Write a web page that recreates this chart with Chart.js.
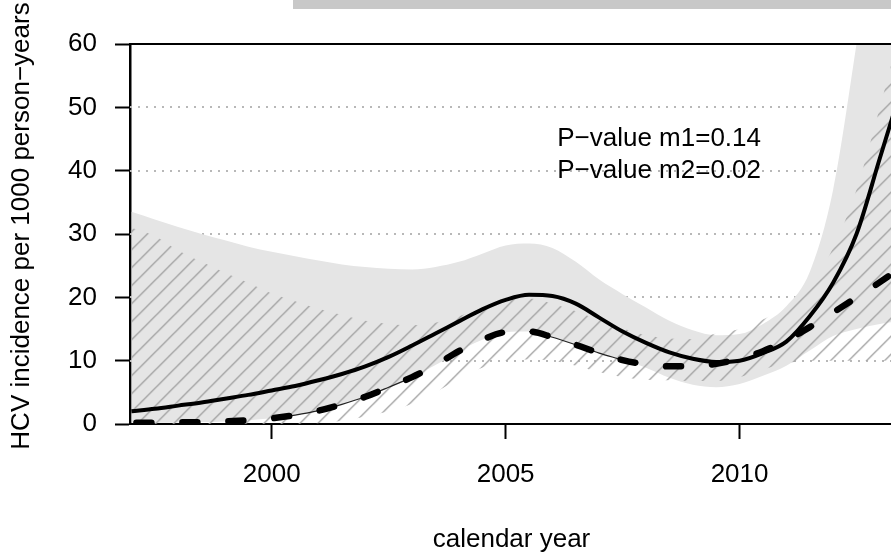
<!DOCTYPE html>
<html>
<head>
<meta charset="utf-8">
<script src="https://cdn.jsdelivr.net/npm/chart.js@4/dist/chart.umd.min.js"></script>
<style>
html,body{margin:0;padding:0;overflow:hidden;background:#fff;}
#wrap{position:relative;width:900px;height:555px;}
</style>
</head>
<body>
<div id="wrap"><canvas id="c"></canvas></div>
<script>
// ---- data ----
const years = [1997,1997.5,1998,1998.5,1999,1999.5,2000,2000.5,2001,2001.5,2002,2002.5,2003,2003.5,2004,2004.5,2005,2005.5,2006,2006.5,2007,2007.5,2008,2008.5,2009,2009.5,2010,2010.5,2011,2011.5,2012,2012.5,2013,2013.5];
const m1 = [2.0,2.4,2.9,3.4,4.0,4.6,5.3,6.0,6.9,7.9,9.1,10.6,12.4,14.3,16.2,18.1,19.6,20.4,20.2,19.0,16.8,14.6,12.8,11.3,10.3,9.8,10.0,11.2,13.0,17.0,22.3,30.0,42.0,54.0];
const m2 = [0.2,0.2,0.25,0.3,0.4,0.6,0.9,1.4,2.1,3.1,4.3,5.8,7.4,9.3,11.5,13.3,14.5,14.6,13.7,12.5,11.2,10.1,9.4,9.1,9.1,9.5,10.3,11.5,13.2,15.3,17.6,20.0,22.4,25.0];
const greyUpper = [33.5,32.3,31.1,30.0,29.0,28.0,27.2,26.5,25.8,25.2,24.8,24.5,24.4,24.8,25.6,26.9,28.2,28.5,27.8,25.6,22.8,20.5,18.4,16.3,14.8,14.0,14.2,15.8,18.6,24.0,37.0,60.0,85.0,110.0];
const greyLower = [0.2,0.2,0.25,0.3,0.4,0.6,0.9,1.4,2.1,3.1,4.3,5.8,7.4,9.3,11.5,13.3,14.5,14.6,13.7,12.5,11.2,10.1,8.9,7.3,6.2,5.8,6.3,7.6,9.2,11.6,13.9,15.0,15.8,16.3];
const hatchUpper = [31.0,29.7,27.4,25.6,23.9,22.3,20.6,19.4,18.2,17.2,16.3,15.8,15.6,16.0,17.0,18.4,19.5,19.8,19.0,17.8,16.4,15.1,14.0,13.5,13.4,14.3,15.0,16.5,18.5,21.8,27.8,37.0,50.0,64.0];
const hatchLower = [0,0,0,0,0,0,0,0,0.1,0.5,1.2,2.0,3.2,5.0,7.2,8.9,10.0,10.2,10.0,9.2,8.2,7.4,7.0,6.9,6.8,6.8,7.4,8.6,9.6,10.0,10.0,10.0,10.0,10.0];
const thinRanges = [[1999.8,2003.2],[2005.3,2007.6]];
const xTicks = [2000,2005,2010];
const yTicks = [0,10,20,30,40,50,60];
const gridVals = [10,20,30,40,50];
const xMin = 1996.97, xMax = 2013.28;
const annotationX = 2008.28;
const annotationY = [45,40];
const annotationText = ['P\u2212value m1=0.14','P\u2212value m2=0.02'];
const xTitle = 'calendar year';
const yTitle = 'HCV incidence per 1000 person\u2212years';

const FONT = "'Liberation Sans', Arial, Helvetica, sans-serif";
Chart.defaults.color = '#000';
Chart.defaults.font.family = FONT;

const pts = arr => years.map((x,i)=>({x:x,y:arr[i]}));

const ctx = document.getElementById('c').getContext('2d');

// hatch pattern
const tile = document.createElement('canvas');
tile.width = 18; tile.height = 18;
const tc = tile.getContext('2d');
tc.strokeStyle = '#a0a0a0';
tc.lineWidth = 1.3;
tc.beginPath();
tc.moveTo(-2,20); tc.lineTo(20,-2);
tc.moveTo(-4,4); tc.lineTo(4,-4);
tc.moveTo(14,22); tc.lineTo(22,14);
tc.stroke();
const hatch = ctx.createPattern(tile,'repeat');
try { hatch.setTransform(new DOMMatrix([1,0,0,1,3.3,0])); } catch(e) {}

const inThin = x => thinRanges.some(r => x >= r[0] && x <= r[1]);

const base = {pointRadius:0, pointHoverRadius:0, cubicInterpolationMode:'monotone', fill:false};

const overlay = {
  id:'overlay',
  beforeDatasetsDraw(chart){
    const c = chart.ctx, a = chart.chartArea, y = chart.scales.y;
    c.save();
    c.strokeStyle = '#b8b8b8';
    c.lineWidth = 2;
    c.setLineDash([2,6]);
    gridVals.forEach(v=>{
      const py = Math.round(y.getPixelForValue(v));
      c.beginPath(); c.moveTo(a.left, py); c.lineTo(a.right, py); c.stroke();
    });
    c.restore();
  },
  afterDraw(chart){
    const c = chart.ctx, a = chart.chartArea, xs = chart.scales.x, ys = chart.scales.y;
    c.save();
    // top frame line
    c.strokeStyle = '#000'; c.lineWidth = 2;
    c.beginPath(); c.moveTo(a.left, a.top); c.lineTo(a.right+10, a.top); c.stroke();
    // grey bar at top
    c.fillStyle = '#c8c8c8';
    c.fillRect(293, 0, 620, 9);
    // texts
    c.fillStyle = '#000';
    c.font = '26px ' + FONT;
    c.textAlign = 'center';
    c.textBaseline = 'middle';
    annotationText.forEach((t,i)=>{
      c.fillText(t, xs.getPixelForValue(annotationX), ys.getPixelForValue(annotationY[i]));
    });
    c.textBaseline = 'alphabetic';
    c.fillText(xTitle, (a.left+a.right)/2, 547);
    c.translate(28.5, 226);
    c.rotate(-Math.PI/2);
    c.fillText(yTitle, 0, 0);
    c.restore();
  }
};

new Chart(ctx, {
  type:'line',
  data:{
    datasets:[
      Object.assign({}, base, {label:'m1', data:pts(m1), borderColor:'#000', borderWidth:4, order:0}),
      Object.assign({}, base, {label:'m2', data:pts(m2), borderColor:'#000', borderWidth:6.5, borderDash:[15,31], borderDashOffset:41, borderCapStyle:'round', order:1}),
      Object.assign({}, base, {label:'thin', data:pts(greyLower), borderWidth:1.2, borderColor:'#000',
        segment:{borderColor: c => (inThin(c.p0.parsed.x) && inThin(c.p1.parsed.x)) ? '#222' : 'rgba(0,0,0,0)'}, order:2}),
      Object.assign({}, base, {label:'hatchU', data:pts(hatchUpper), borderWidth:0, borderColor:'rgba(0,0,0,0)', backgroundColor:hatch, fill:{target:4}, order:3}),
      Object.assign({}, base, {label:'hatchL', data:pts(hatchLower), borderWidth:0, borderColor:'rgba(0,0,0,0)', order:4}),
      Object.assign({}, base, {label:'greyU', data:pts(greyUpper), borderWidth:0, borderColor:'rgba(0,0,0,0)', backgroundColor:'#e5e5e5', fill:{target:6}, order:5}),
      Object.assign({}, base, {label:'greyL', data:pts(greyLower), borderWidth:0, borderColor:'rgba(0,0,0,0)', order:6})
    ]
  },
  options:{
    responsive:true,
    maintainAspectRatio:false,
    animation:false,
    events:[],
    layout:{padding:{top:44,right:7,left:0,bottom:0}},
    plugins:{legend:{display:false}, tooltip:{enabled:false}, filler:{propagate:false}},
    scales:{
      x:{
        type:'linear', min:xMin, max:xMax,
        afterFit(s){ s.height = 131; },
        afterBuildTicks(s){ s.ticks = xTicks.map(v=>({value:v})); },
        grid:{drawOnChartArea:false, drawTicks:true, tickLength:15, tickWidth:2, tickColor:'#000'},
        border:{display:true, color:'#000', width:2},
        ticks:{padding:20, font:{size:26}, color:'#000', maxRotation:0, autoSkip:false, callback:v=>String(v)}
      },
      y:{
        type:'linear', min:0, max:60,
        afterFit(s){ s.width = 130; },
        afterBuildTicks(s){ s.ticks = yTicks.map(v=>({value:v})); },
        grid:{drawOnChartArea:false, drawTicks:true, tickLength:15, tickWidth:2, tickColor:'#000'},
        border:{display:true, color:'#000', width:2.5},
        ticks:{padding:18, font:{size:26}, color:'#000', callback:v=>String(v)}
      }
    }
  },
  plugins:[overlay]
});
</script>
</body>
</html>
